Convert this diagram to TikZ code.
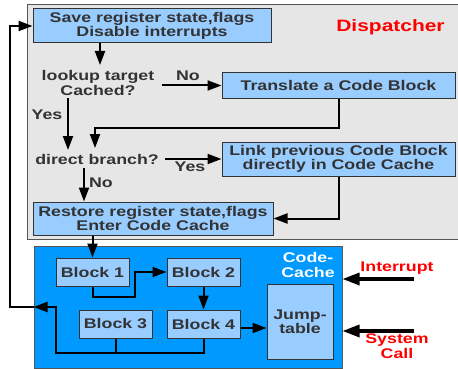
\documentclass[tikz,border=0pt]{standalone}
\usepackage{fontspec}
\setmainfont{Liberation Sans}[FakeStretch=1.27]
\usetikzlibrary{arrows.meta,calc}
\definecolor{txtgray}{RGB}{51,51,51}
\definecolor{bggray}{RGB}{230,230,230}
\definecolor{bgborder}{RGB}{85,85,85}
\definecolor{lightblue}{RGB}{153,204,255}
\definecolor{cacheblue}{RGB}{0,153,255}
\definecolor{redtxt}{RGB}{255,0,0}
\tikzset{
  every node/.style={font=\fontsize{14}{14.5}\selectfont\bfseries, text=txtgray, inner sep=2pt},
  box/.style={draw=txtgray, line width=1pt, fill=lightblue, align=center, inner sep=0pt},
  lbl/.style={align=center},
  conn/.style={line width=2pt, draw=black},
  arr/.style={conn, -{Triangle[length=14pt,width=10pt]}},
  bigarr/.style={line width=3.2pt, draw=black, -{Triangle[length=17pt,width=12pt]}},
  redlbl/.style={text=redtxt, align=center},
}
\begin{document}
\begin{tikzpicture}[x=1pt,y=-1pt]
\useasboundingbox (0,0) rectangle (458,369);
% dispatcher background
\draw[fill=bggray, draw=bgborder, line width=1pt] (27,5) rectangle (475,239);
\node[redlbl, font=\fontsize{16.5}{17}\selectfont\bfseries] (disp) at (390.5,27) {Dispatcher};
% code cache background
\node[draw=bgborder, line width=1pt, fill=cacheblue, minimum width=308pt, minimum height=122pt, inner sep=0pt] (code) at (188,307) {};
\node[lbl, text=white] (codelbl) at (308,265) {Code-\\Cache};

% dispatcher boxes
\node[box, minimum width=238pt, minimum height=34pt] (save) at (152,26) {Save register state,flags\\Disable interrupts};
\node[lbl] (lookup) at (98,83) {lookup target\\Cached?};
\node[box, minimum width=233pt, minimum height=25pt] (translate) at (338.5,85.5) {Translate a Code Block};
\node[lbl] (direct) at (97,159) {direct branch?};
\node[box, minimum width=233pt, minimum height=34pt] (link) at (338.5,159) {Link previous Code Block\\directly in Code Cache};
\node[box, minimum width=240pt, minimum height=33pt] (restore) at (153,218.5) {Restore register state,flags\\Enter Code Cache};

% code cache boxes
\node[box, minimum width=73pt, minimum height=28pt] (b1) at (92.5,272) {Block 1};
\node[box, minimum width=73pt, minimum height=28pt] (b2) at (203.5,272) {Block 2};
\node[box, minimum width=73pt, minimum height=28pt] (b3) at (115.5,324) {Block 3};
\node[box, minimum width=73pt, minimum height=28pt] (b4) at (203.5,324) {Block 4};
\node[box, minimum width=66pt, minimum height=75pt] (jump) at (300,321.5) {Jump-\\table};

% labels
\node[lbl] (no1) at (188,76) {No};
\node[lbl] (yes1) at (47,115) {Yes};
\node[lbl] (yes2) at (190,167) {Yes};
\node[lbl] (no2) at (101,183) {No};
\node[redlbl] (intr) at (397,268) {Interrupt};
\node[redlbl] (sysc) at (397,346) {System\\Call};

% coordinates
\coordinate (yx) at (68,0);
\coordinate (nx) at (84,0);
\coordinate (j1) at (95,128);
\coordinate (j2) at (135,297);
\coordinate (j3) at (56,353);
\coordinate (j4) at (10,307);
\coordinate (intstart) at (414,279);
\coordinate (sysstart) at (414,331);

% connectors dispatcher
\draw[arr] (save.south -| 100,0) -- (100,65);
\draw[arr] (lookup.east |- translate.west) ++(5pt,0) -- (translate.west);
\draw[arr] (yx |- 0,98) -- (yx |- 0,150);
\draw[arr] (translate.south) |- (j1) -- (j1 |- 0,148);
\draw[arr] (direct.east |- link.west) ++(4pt,0) -- (link.west);
\draw[arr] (nx |- 0,168) -- (nx |- restore.north);
\draw[arr] (link.south) |- (restore.east);

% connectors code cache
\draw[arr] (b1.north |- restore.south) -- (b1.north);
\draw[arr] (b1.south) |- (j2) |- (b2.west);
\draw[arr] (b2.south) -- (b4.north);
\draw[arr] (b4.east |- 0,328) -- (jump.west |- 0,328);
\draw[conn] (b3.south) -- (b3.south |- j3);
\draw[arr] (b4.south) |- (j3) |- (code.west |- j4);
\draw[arr] (code.west |- j4) -- (j4) |- (save.west);

% external arrows
\draw[bigarr] (intstart) -- (code.east |- intstart);
\draw[bigarr] (sysstart) -- (code.east |- sysstart);
\end{tikzpicture}
\end{document}
